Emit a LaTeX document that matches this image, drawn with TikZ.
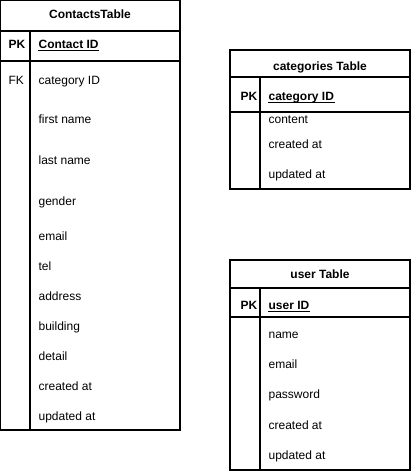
\documentclass[tikz,border=0pt]{standalone}
\usepackage{fontspec}
\setmainfont{Liberation Sans}
\usetikzlibrary{positioning}

\begin{document}
\begin{tikzpicture}[x=1pt, y=-1pt, line width=1.3pt,
    tabletitle/.style={font=\fontsize{12}{14}\selectfont\bfseries, anchor=base, inner sep=0pt},
    keyname/.style={font=\fontsize{12}{14}\selectfont\bfseries, anchor=base west, inner sep=0pt},
    fieldname/.style={font=\fontsize{12}{14}\selectfont, anchor=base west, inner sep=0pt},
    keyline/.style={line width=1pt}]
    \useasboundingbox (0,0) rectangle (411,471);

    % Contacts
    \draw (0.7,0.7) rectangle (180,430);
    \draw (0.7,31) -- (180,31);
    \draw (0.7,61) -- (180,61);
    \draw (30,31) -- (30,430);
    \node[tabletitle] (ctitle) at (90,19) {ContactsTable};
    \node[keyname] (cpk) at (8,48) {PK};
    \node[keyname] (cid) at (38,48) {Contact ID};
    \draw[keyline] ([yshift=-2pt]cid.base west) -- ([yshift=-2pt]cid.base east);
    \node[fieldname] (cfk) at (8,84) {FK};
    \foreach \y/\t [count=\i] in {84/category ID, 123/first name, 164/last name, 205/gender,
        240/email, 270/tel, 300/address, 330/building, 360/detail, 390/created at, 420/updated at}
        \node[fieldname] (cf\i) at (38,\y) {\t};

    % Categories
    \begin{scope}[xshift=230pt, yshift=-50pt]
        \draw (0,0) rectangle (180,139);
        \draw (0,27) -- (180,27);
        \draw (0,62) -- (180,62);
        \draw (30,27) -- (30,139);
        \node[tabletitle] (gtitle) at (90,20) {categories Table};
        \node[keyname] (gpk) at (10,50) {PK};
        \node[keyname] (gid) at (38,50) {category ID};
        \draw[keyline] ([yshift=-2pt]gid.base west) -- ([yshift=-2pt]gid.base east);
        \foreach \y/\t [count=\i] in {73/content, 98/created at, 128/updated at}
            \node[fieldname] (gf\i) at (38,\y) {\t};
    \end{scope}

    % User
    \begin{scope}[xshift=230pt, yshift=-260pt]
        \draw (0,0) rectangle (180,210);
        \draw (0,28) -- (180,28);
        \draw (0,57) -- (180,57);
        \draw (30,28) -- (30,210);
        \node[tabletitle] (utitle) at (90,18) {user Table};
        \node[keyname] (upk) at (10,49) {PK};
        \node[keyname] (uid) at (38,49) {user ID};
        \draw[keyline] ([yshift=-2pt]uid.base west) -- ([yshift=-2pt]uid.base east);
        \foreach \y/\t [count=\i] in {78/name, 108/email, 138/password, 169/created at, 199/updated at}
            \node[fieldname] (uf\i) at (38,\y) {\t};
    \end{scope}
\end{tikzpicture}
\end{document}
